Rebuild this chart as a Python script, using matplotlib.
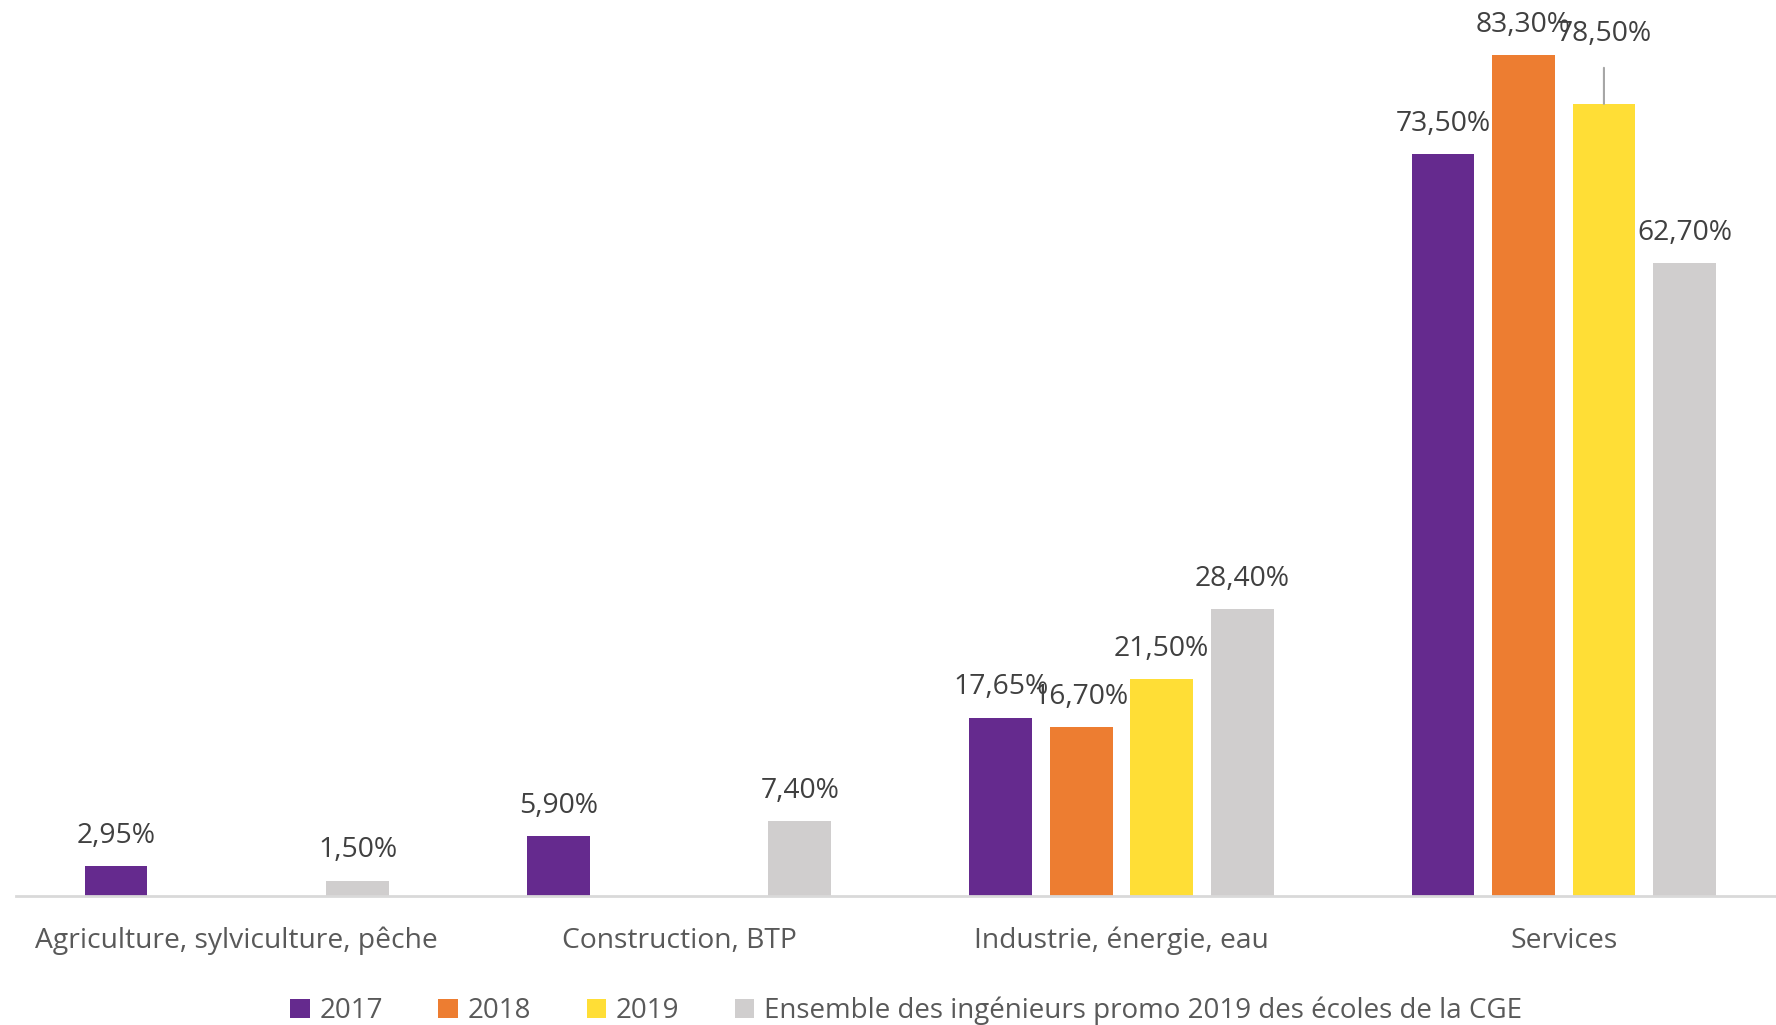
import matplotlib
matplotlib.use("Agg")
import matplotlib.pyplot as plt
from matplotlib.patches import Patch
import numpy as np

categories = ["Agriculture, sylviculture, pêche", "Construction, BTP",
              "Industrie, énergie, eau", "Services"]
series_names = ["2017", "2018", "2019",
                "Ensemble des ingénieurs promo 2019 des écoles de la CGE"]
v2017 = [2.95, 5.90, 17.65, 73.50]
v2018 = [None, None, 16.70, 83.30]
v2019 = [None, None, 21.50, 78.50]
vcge = [1.50, 7.40, 28.40, 62.70]
colors = ["#652A8E", "#ED7D31", "#FFDE36", "#D0CECE"]

plt.rcParams['font.family'] = ['Open Sans', 'DejaVu Sans']

fig = plt.figure(figsize=(17.76, 10.25), dpi=100)
ax = fig.add_axes([15.6 / 1776, 129 / 1025, 1 - 15.6 / 1776, 896 / 1025])

series = [v2017, v2018, v2019, vcge]
step = 0.182
width = 0.142
x = np.arange(len(categories))

def fmt(v):
    return f"{v:.2f}".replace(".", ",") + "%"

for j, (vals, col) in enumerate(zip(series, colors)):
    for i, v in enumerate(vals):
        if v is None:
            continue
        xp = x[i] + (j - 1.5) * step
        ax.bar(xp, v, width=width, color=col, zorder=2)
        if categories[i] == "Services" and series_names[j] == "2019":
            ax.annotate(fmt(v), xy=(xp, v), xytext=(0, 50), textcoords="offset points",
                        ha="center", va="center", fontsize=20.3, color="#404040",
                        arrowprops=dict(arrowstyle="-", color="#A6A6A6", lw=1.5,
                                        shrinkA=24, shrinkB=0, patchA=None))
        else:
            ax.annotate(fmt(v), xy=(xp, v), xytext=(0, 22), textcoords="offset points",
                        ha="center", va="center", fontsize=20.3, color="#404040")

ax.set_xlim(-0.5, 3.48)
ax.set_ylim(0, 88.8)
ax.set_xticks(x)
ax.set_xticklabels(categories, fontsize=20.3, color="#595959")
ax.tick_params(axis="x", length=0, pad=22)
ax.set_yticks([])
for s in ["top", "right", "left"]:
    ax.spines[s].set_visible(False)
ax.spines["bottom"].set_color("#D9D9D9")
ax.spines["bottom"].set_linewidth(2)
ax.patch.set_alpha(0)

handles = [Patch(facecolor=c) for c in colors]
fig.legend(handles, series_names, ncol=4, loc="center", bbox_to_anchor=(906 / 1776, 1 - 1011 / 1025),
           frameon=False, fontsize=20, labelcolor="#595959", handlelength=0.7, handleheight=0.7,
           handletextpad=0.35, columnspacing=2.0)

fig.savefig("out.png", dpi=100)
